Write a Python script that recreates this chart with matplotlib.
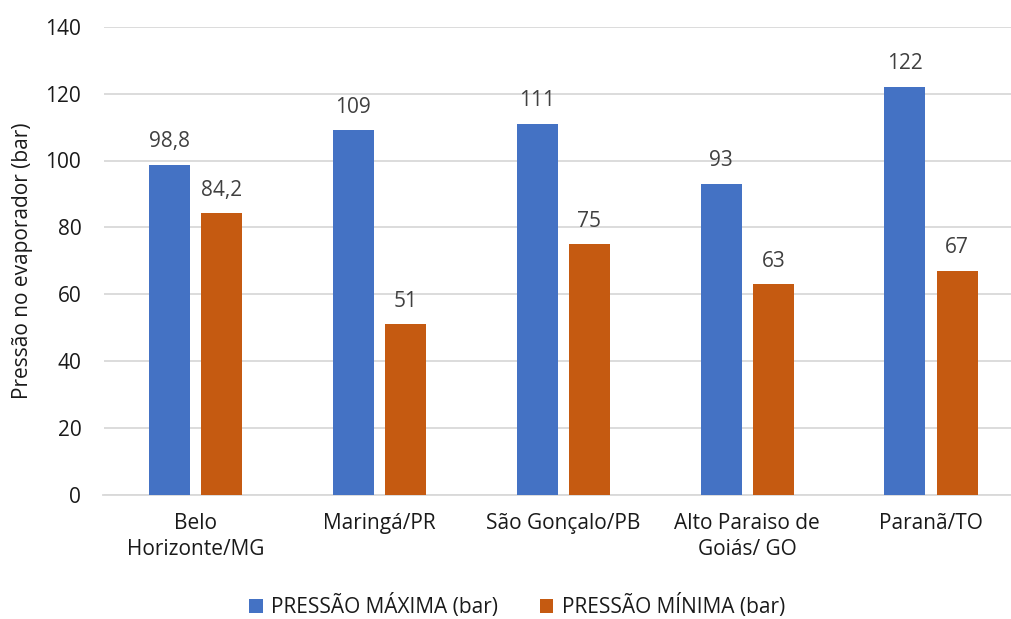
import matplotlib.pyplot as plt
import numpy as np

plt.rcParams['font.family'] = ['Open Sans', 'DejaVu Sans']

cidades = ["Belo\nHorizonte/MG", "Maringá/PR", "São Gonçalo/PB",
           "Alto Paraiso de\nGoiás/ GO", "Paranã/TO"]
pressao_max = [98.8, 109, 111, 93, 122]
pressao_min = [84.2, 51, 75, 63, 67]
rotulos_max = ["98,8", "109", "111", "93", "122"]
rotulos_min = ["84,2", "51", "75", "63", "67"]

azul = "#4472C4"
laranja = "#C55A11"
fs = 15

fig = plt.figure(figsize=(10.11, 6.19), dpi=100)
ax = fig.add_axes([103.5 / 1011, 124 / 619, 919.5 / 1011, 468.3 / 619])

x = np.arange(len(cidades))
w = 0.223
off = 0.142
b1 = ax.bar(x - off, pressao_max, w, color=azul, label="PRESSÃO MÁXIMA (bar)", zorder=3)
b2 = ax.bar(x + off, pressao_min, w, color=laranja, label="PRESSÃO MÍNIMA (bar)", zorder=3)

ax.bar_label(b1, labels=rotulos_max, padding=9, fontsize=fs, color="#404040")
ax.bar_label(b2, labels=rotulos_min, padding=9, fontsize=fs, color="#404040")

ax.set_xlim(-0.5, len(cidades) - 0.5)
ax.set_ylim(0, 140)
ax.set_yticks(range(0, 141, 20))
ax.yaxis.grid(True, color="#D9D9D9", linewidth=1.3, zorder=0)
ax.set_axisbelow(True)

for s in ["top", "right", "left"]:
    ax.spines[s].set_visible(False)
ax.spines["bottom"].set_color("#D9D9D9")
ax.spines["bottom"].set_linewidth(1.3)

ax.set_xticks(x)
ax.set_xticklabels(cidades, fontsize=fs, color="#1a1a1a", linespacing=1.3)
ax.tick_params(axis="both", length=0, labelsize=fs, colors="#1a1a1a")
ax.tick_params(axis="x", pad=13)
ax.tick_params(axis="y", pad=16)

ax.set_ylabel("Pressão no evaporador (bar)", fontsize=fs, color="#1a1a1a", labelpad=9)

fig.legend(handles=[b1, b2], loc="center", bbox_to_anchor=(517 / 1011, 1 - 606 / 619),
           ncol=2, frameon=False, fontsize=fs, handlelength=0.65, handleheight=0.65,
           handletextpad=0.4, columnspacing=2.0, labelcolor="#1a1a1a")

fig.savefig("out.png", dpi=100)
